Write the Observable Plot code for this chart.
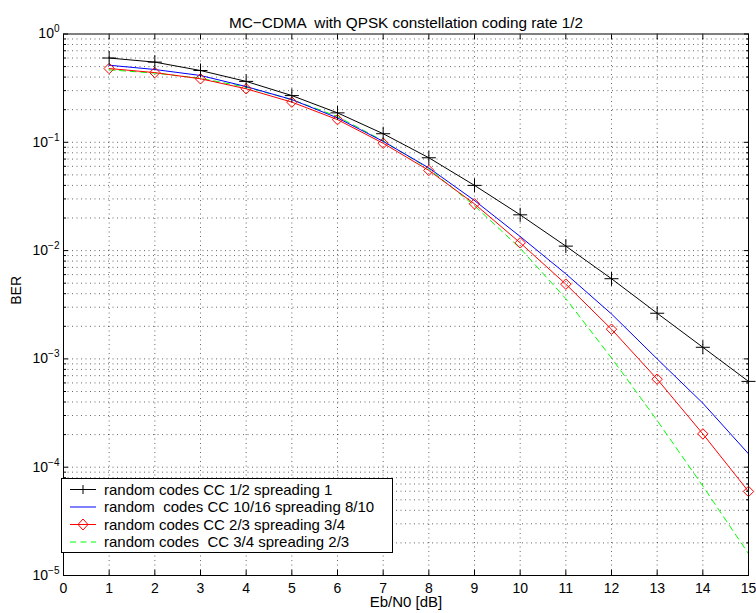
<!DOCTYPE html>
<html><head><meta charset="utf-8">
<script src="https://cdn.jsdelivr.net/npm/d3@7"></script>
<script src="https://cdn.jsdelivr.net/npm/@observablehq/plot@0.6"></script>
<style>
body{margin:0;background:#fff}
#chart{position:relative;width:756px;height:613px}
svg text{white-space:pre}
</style>
</head><body><div id="chart"></div>
<script>
const ebn0 = [1,2,3,4,5,6,7,8,9,10,11,12,13,14,15];
const berCC12 = [0.60,0.55,0.46,0.365,0.27,0.187,0.12,0.072,0.040,0.0214,0.011,0.0055,0.00264,0.00128,0.00062];
const berCC1016 = [0.515,0.47,0.414,0.327,0.248,0.168,0.102,0.058,0.029,0.0135,0.0061,0.0026,0.0010,0.00039,0.000133];
const berCC23 = [0.48,0.44,0.386,0.312,0.235,0.162,0.098,0.055,0.027,0.0118,0.0049,0.00188,0.00065,0.000203,0.0000597];
const berCC34 = [0.467,0.435,0.39,0.323,0.248,0.173,0.103,0.057,0.026,0.0105,0.0036,0.00102,0.00027,0.0000669,0.0000159];
const seriesNames = [
  "random codes CC 1/2 spreading 1",
  "random  codes CC 10/16 spreading 8/10",
  "random codes CC 2/3 spreading 3/4",
  "random codes  CC 3/4 spreading 2/3"
];
const xTicks = [0,1,2,3,4,5,6,7,8,9,10,11,12,13,14,15];
const yExponents = [-5,-4,-3,-2,-1,0];
const titleText = "MC\u2212CDMA  with QPSK constellation coding rate 1/2";
const xLabel = "Eb/N0 [dB]";
const yLabel = "BER";

const yMajor = yExponents.map(e => Math.pow(10, e));
const yMinor = [];
for (const e of yExponents.slice(0, -1)) for (let m = 2; m <= 9; m++) yMinor.push(m * Math.pow(10, e));
const yGrid = yMajor.concat(yMinor);

const toRows = (vals) => ebn0.map((x, i) => ({x, y: vals[i]}));
const r12 = toRows(berCC12), r1016 = toRows(berCC1016), r23 = toRows(berCC23), r34 = toRows(berCC34);

const FONT = "'Liberation Sans', Arial, Helvetica, sans-serif";
const gridStyle = {stroke: "#000", strokeOpacity: 0.6, strokeDasharray: "1,3.5", strokeWidth: 1};

const plot = Plot.plot({
  width: 756, height: 613,
  marginLeft: 63, marginRight: 8, marginTop: 33.5, marginBottom: 38,
  style: {fontFamily: FONT, fontSize: "14px", background: "#fff", color: "#000"},
  x: {domain: [0, 15]},
  y: {type: "log", domain: [1e-5, 1]},
  marks: [
    Plot.gridX(xTicks.slice(1, -1), gridStyle),
    Plot.gridY(yGrid.filter(v => v > 1e-5 && v < 1), gridStyle),
    Plot.line(r34, {x: "x", y: "y", stroke: "#00ff00", strokeWidth: 1, strokeDasharray: "6,4.5"}),
    Plot.line(r1016, {x: "x", y: "y", stroke: "#0000ff", strokeWidth: 1}),
    Plot.line(r23, {x: "x", y: "y", stroke: "#ff0000", strokeWidth: 1}),
    Plot.dot(r23, {x: "x", y: "y", symbol: "diamond2", r: 4.7, stroke: "#ff0000", strokeWidth: 1, fill: "none"}),
    Plot.line(r12, {x: "x", y: "y", stroke: "#000", strokeWidth: 1}),
    Plot.dot(r12, {x: "x", y: "y", symbol: "plus", r: 4.6, stroke: "#000", strokeWidth: 1}),
    Plot.frame({stroke: "#000", strokeWidth: 1}),
    Plot.axisX({ticks: xTicks, tickSize: -5, tickPadding: 12.5, tickFormat: d => String(d), label: null, fontSize: 14}),
    Plot.axisX({anchor: "top", ticks: xTicks, tickSize: -5, tickFormat: () => "", label: null}),
    Plot.axisY({ticks: yMajor, tickSize: -5, tickPadding: 9, tickFormat: d => "10|" + Math.round(Math.log10(d)), label: null, fontSize: 14}),
    Plot.axisY({ticks: yMinor, tickSize: -3, tickFormat: () => "", label: null}),
    Plot.axisY({anchor: "right", ticks: yMajor, tickSize: -5, tickFormat: () => "", label: null}),
    Plot.axisY({anchor: "right", ticks: yMinor, tickSize: -3, tickFormat: () => "", label: null}),
    Plot.text([titleText], {frameAnchor: "top", dy: -16.5, fontSize: 15.3}),
    Plot.text([xLabel], {frameAnchor: "bottom", dy: 31, fontSize: 15}),
    Plot.text([yLabel], {frameAnchor: "left", dx: -46.5, rotate: -90, fontSize: 14})
  ]
});

document.getElementById("chart").appendChild(plot);

// superscript exponents on y tick labels
d3.select(plot).selectAll("text").each(function() {
  const t = this.textContent;
  if (/^10\|/.test(t)) {
    const e = t.split("|")[1].replace("-", "\u2212");
    const sel = d3.select(this);
    sel.text("10");
    sel.append("tspan").attr("dy", "-0.6em").style("font-size", "10px").text(e);
  }
});

// legend
const svg = d3.select(plot);
const lg = svg.append("g");
lg.append("rect").attr("x", 61.5).attr("y", 478.5).attr("width", 331).attr("height", 74)
  .attr("fill", "#fff").attr("stroke", "#000").attr("stroke-width", 1);
const rowY = [489.5, 507, 524.5, 542];
const legendStyle = [
  {stroke: "#000", dash: null, marker: "plus"},
  {stroke: "#0000ff", dash: null, marker: null},
  {stroke: "#ff0000", dash: null, marker: "diamond"},
  {stroke: "#00ff00", dash: "6,4.5", marker: null}
];
seriesNames.forEach((name, i) => {
  const y = rowY[i], s = legendStyle[i];
  const ln = lg.append("line").attr("x1", 70).attr("x2", 96).attr("y1", y).attr("y2", y)
    .attr("stroke", s.stroke).attr("stroke-width", 1);
  if (s.dash) ln.attr("stroke-dasharray", s.dash);
  if (s.marker === "plus") {
    lg.append("path").attr("d", `M${83-4.5},${y}h9M83,${y-4.5}v9`).attr("stroke", s.stroke).attr("fill", "none");
  } else if (s.marker === "diamond") {
    lg.append("path").attr("d", `M83,${y-5.5}L88,${y}L83,${y+5.5}L78,${y}Z`).attr("stroke", s.stroke).attr("fill", "none");
  }
  lg.append("text").attr("x", 104).attr("y", y).attr("dy", "0.35em")
    .style("text-anchor", "start").style("font-family", FONT).style("font-size", "15px").style("fill", "#000")
    .text(name);
});
</script>
</body></html>
